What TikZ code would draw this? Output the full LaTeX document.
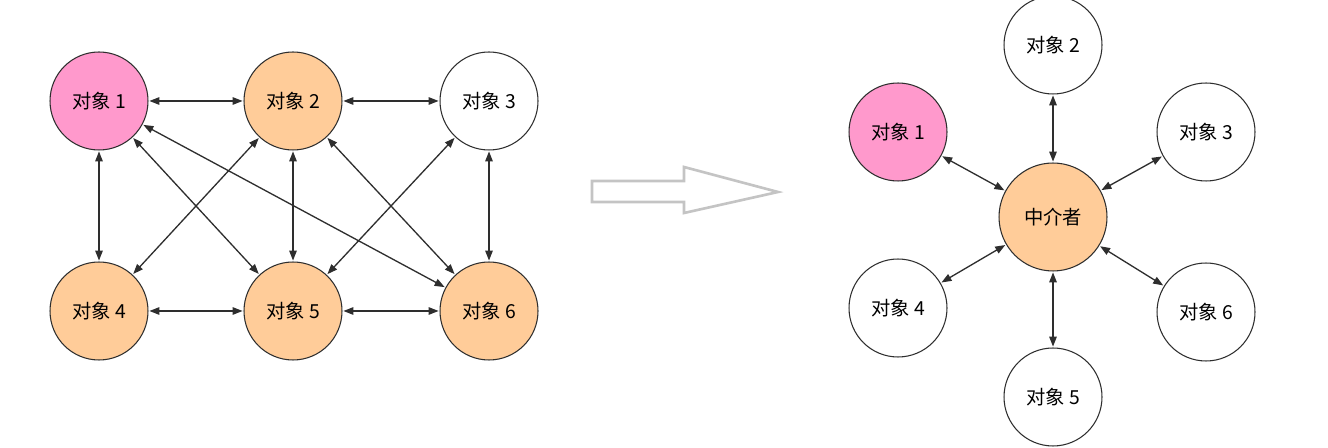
\documentclass[tikz,border=0pt]{standalone}
\usepackage{fontspec}
\newfontfamily\cjk{Noto Sans CJK SC}
\usetikzlibrary{arrows.meta, positioning}
\definecolor{pinkobj}{HTML}{FF99CC}
\definecolor{orangeobj}{HTML}{FFCC99}
\definecolor{edgegray}{HTML}{2E2E2E}
\definecolor{bigarrow}{HTML}{C4C4C4}
\tikzset{
  obj/.style={circle, draw=edgegray, line width=0.6pt, minimum size=1.96cm, inner sep=0pt, font=\cjk\fontsize{11}{13}\selectfont},
  link/.style={{Triangle[length=0.2cm,width=0.15cm]}-{Triangle[length=0.2cm,width=0.15cm]}, edgegray, line width=0.75pt, shorten <=0.5pt, shorten >=0.5pt}
}
\begin{document}
\begin{tikzpicture}[x=0.02cm, y=-0.02cm]
    \useasboundingbox (0,0) rectangle (1328,448);
    % before: every object talks to the others
    \node[obj, fill=pinkobj] (a1) at (99,101) {对象 1};
    \node[obj, fill=orangeobj] (a2) at (293,101) {对象 2};
    \node[obj, fill=white] (a3) at (489,101) {对象 3};
    \node[obj, fill=orangeobj] (a4) at (99,311) {对象 4};
    \node[obj, fill=orangeobj] (a5) at (293,311) {对象 5};
    \node[obj, fill=orangeobj] (a6) at (489,311) {对象 6};

    \foreach \from/\to in {a1/a2, a2/a3, a1/a4, a2/a5, a3/a6, a4/a5, a5/a6, a1/a5, a1/a6, a2/a4, a2/a6, a3/a5}
        \draw[link] (\from) -- (\to);

    % transition arrow
    \draw[bigarrow, line width=1.5pt, line join=miter] (592,181) -- (684,181) -- (684,167) -- (778,192) -- (684,213) -- (684,202) -- (592,202) -- cycle;

    % after: everything goes through the mediator
    \node[obj, fill=orangeobj, minimum size=2.16cm] (med) at (1053,217) {中介者};
    \node[obj, fill=pinkobj] (b1) at (898,132) {对象 1};
    \node[obj, fill=white] (b2) at (1053,45) {对象 2};
    \node[obj, fill=white] (b3) at (1206,132) {对象 3};
    \node[obj, fill=white] (b4) at (898,308) {对象 4};
    \node[obj, fill=white] (b5) at (1053,397) {对象 5};
    \node[obj, fill=white] (b6) at (1206,312) {对象 6};

    \foreach \n in {b1, b2, b3, b4, b5, b6}
        \draw[link] (\n) -- (med);
\end{tikzpicture}
\end{document}
